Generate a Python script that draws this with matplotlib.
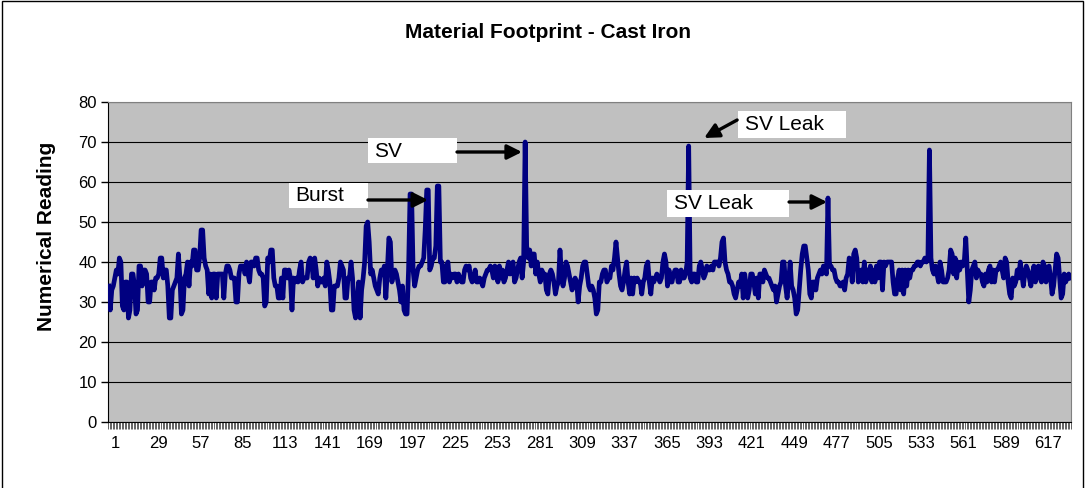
import matplotlib.pyplot as plt
import numpy as np
from matplotlib.patches import Rectangle
from matplotlib.transforms import ScaledTranslation

plt.rcParams['font.family'] = ['Liberation Sans', 'DejaVu Sans']

# readings, split in blocks along the x axis
readings_1 = [34, 28, 33, 34, 36, 38, 37, 41, 40, 29,
              28, 35, 35, 26, 28, 37, 37, 34, 27, 28,
              39, 39, 34, 38, 38, 37, 30, 30, 35, 35,
              33, 36, 36, 37, 41, 41, 36, 38, 38, 34,
              26, 26, 33, 34, 35, 36, 42, 36, 27, 28,
              36, 37, 40, 34, 40, 39, 43, 43, 38, 38,
              41, 48, 48, 41, 39, 38, 32, 37, 31, 37,
              37, 31, 37, 37, 37, 37, 31, 37, 39, 39,
              38, 36, 36, 36, 30, 30, 37, 39, 39, 39, 37]
readings_2 = [40, 37, 35, 40, 40, 39, 41, 41, 38, 37,
              37, 36, 29, 30, 41, 40, 43, 43, 36, 34,
              34, 31, 31, 36, 31, 38, 38, 36, 38, 36,
              28, 36, 35, 36, 35, 38, 40, 35, 36, 36,
              36, 40, 41, 40, 36, 41, 38, 34, 36, 35,
              35, 36, 34, 40, 38, 35, 28, 28, 34, 34,
              34, 36, 40, 39, 38, 31, 31, 36, 36, 40,
              36, 28, 26, 30, 35, 26, 33, 36, 40, 49,
              50, 45, 37, 38, 36, 34, 33, 32, 36, 38, 37]
readings_3 = [39, 31, 38, 46, 45, 35, 37, 38, 37, 35,
              33, 30, 34, 28, 27, 27, 38, 57, 57, 38,
              34, 36, 38, 39, 39, 40, 41, 48, 58, 58,
              38, 39, 41, 41, 44, 59, 59, 40, 40, 35,
              35, 39, 40, 35, 37, 36, 37, 37, 35, 37,
              36, 35, 35, 38, 39, 38, 39, 36, 35, 36,
              38, 35, 35, 36, 35, 34, 36, 37, 38, 38,
              39, 38, 36, 39, 38, 35, 39, 36, 38, 35,
              36, 38, 40, 37, 38, 40, 35, 36, 38, 40, 41]
readings_4 = [36, 40, 70, 44, 41, 43, 39, 42, 42, 37,
              40, 37, 35, 38, 37, 37, 33, 32, 37, 38,
              37, 35, 32, 34, 35, 43, 37, 34, 36, 40,
              39, 37, 35, 33, 35, 36, 35, 30, 34, 36,
              39, 40, 40, 37, 34, 33, 34, 33, 31, 27,
              28, 35, 35, 37, 38, 38, 35, 36, 36, 39,
              38, 41, 45, 41, 37, 34, 33, 35, 38, 40,
              35, 32, 36, 32, 36, 35, 36, 35, 35, 32,
              35, 36, 39, 40, 35, 32, 36, 35, 36, 37, 36]
readings_5 = [35, 36, 40, 42, 40, 34, 38, 35, 35, 37,
              38, 38, 35, 35, 38, 36, 36, 37, 40, 69,
              36, 35, 37, 37, 35, 35, 39, 40, 38, 36,
              37, 39, 38, 38, 39, 38, 40, 40, 40, 39,
              41, 45, 46, 40, 38, 37, 35, 35, 34, 32,
              31, 33, 35, 34, 37, 31, 37, 34, 31, 33,
              37, 37, 35, 32, 36, 31, 37, 37, 35, 38,
              37, 36, 36, 35, 34, 33, 34, 30, 32, 34,
              35, 40, 40, 34, 31, 35, 40, 34, 33, 31, 27]
readings_6 = [28, 33, 38, 42, 44, 44, 41, 38, 32, 31,
              35, 35, 33, 36, 37, 38, 37, 39, 38, 37,
              56, 39, 39, 38, 38, 36, 35, 35, 34, 34,
              35, 33, 36, 37, 41, 40, 35, 42, 43, 41,
              35, 37, 38, 35, 40, 35, 38, 36, 39, 35,
              38, 35, 39, 36, 40, 40, 33, 40, 39, 40,
              40, 40, 40, 35, 32, 32, 36, 38, 33, 38,
              32, 38, 34, 38, 36, 38, 38, 39, 39, 40,
              40, 39, 40, 40, 41, 40, 41, 68, 41, 38, 37]
readings_7 = [39, 37, 35, 40, 38, 35, 35, 35, 36, 38,
              43, 42, 37, 41, 36, 40, 38, 40, 39, 40,
              46, 38, 30, 33, 38, 39, 40, 36, 38, 37,
              37, 35, 34, 37, 35, 38, 39, 35, 38, 35,
              38, 38, 39, 40, 38, 36, 41, 40, 35, 32,
              31, 36, 34, 35, 38, 36, 40, 37, 34, 37,
              39, 38, 36, 34, 37, 39, 35, 38, 39, 36,
              35, 40, 39, 35, 38, 39, 36, 32, 34, 38,
              42, 41, 36, 31, 32, 37, 35, 36, 37, 36]

readings = (readings_1 + readings_2 + readings_3 + readings_4 +
            readings_5 + readings_6 + readings_7)
sample_no = np.arange(1, len(readings) + 1)
label_step = 28


def add_note(ax, text, box, text_pos, tail, head):
    # white label box, text and a black arrow
    x0, y0, x1, y1 = box
    ax.add_patch(Rectangle((x0, y0), x1 - x0, y1 - y0, facecolor='white',
                           edgecolor='none', zorder=5))
    ax.text(text_pos[0], text_pos[1], text, fontsize=15, ha='left',
            va='center', zorder=6)
    ax.annotate('', xy=head, xytext=tail,
                arrowprops=dict(arrowstyle='-|>', color='black', lw=2.4,
                                mutation_scale=22, shrinkA=0, shrinkB=0),
                zorder=6)


fig = plt.figure(figsize=(10.86, 4.88), dpi=100)
ax = fig.add_axes([108 / 1086, 66 / 488, 963 / 1086, 320 / 488])

ax.set_facecolor('#C0C0C0')
ax.plot(sample_no, readings, color='#000080', linewidth=3.4,
        solid_joinstyle='round', zorder=3)

ax.set_xlim(0.5, len(readings) + 0.5)
ax.set_ylim(0, 80)
ax.set_yticks(range(0, 81, 10))
ax.yaxis.grid(True, color='black', linewidth=0.8)
ax.set_axisbelow(True)

ticks = list(range(1, len(readings) + 1, label_step))
ax.set_xticks(ticks)
ax.set_xticklabels([str(t) for t in ticks])
ax.set_xticks(np.arange(0.5, len(readings) + 1), minor=True)
ax.tick_params(axis='x', which='major', length=0, pad=10, labelsize=12)
ax.tick_params(axis='x', which='minor', length=5, width=0.5, color='#222222')
ax.tick_params(axis='y', length=5, width=1, pad=3, labelsize=12)

# Excel draws the category labels a little to the right
shift = ScaledTranslation(7 / 100, 0, fig.dpi_scale_trans)
for label in ax.get_xticklabels():
    label.set_transform(label.get_transform() + shift)

for side in ['top', 'right']:
    ax.spines[side].set_color('#808080')
for side in ['left', 'bottom']:
    ax.spines[side].set_color('black')

ax.set_ylabel('Numerical Reading', fontsize=15, fontweight='bold')
ax.yaxis.set_label_coords(-0.054, 0.58)

fig.text(0.505, 0.934, 'Material Footprint - Cast Iron', fontsize=15,
         fontweight='bold', ha='center', va='center')

add_note(ax, 'SV', (172.2, 64.75, 231, 71), (176.2, 67.75),
         (231, 67.5), (273.9, 67.5))
add_note(ax, 'Burst', (120, 53.5, 172.2, 59.75), (124, 56.6),
         (172.2, 55.5), (211.9, 55.5))
add_note(ax, 'SV Leak', (416.6, 71, 487.9, 77.75), (421.2, 74.4),
         (416, 75.5), (394.2, 71))
add_note(ax, 'SV Leak', (369.7, 51.25, 450.3, 58), (374.3, 54.6),
         (450.3, 55), (475.4, 55))

# outer chart border
fig.patches.append(Rectangle((0.002, -0.01), 0.995, 1.007,
                             transform=fig.transFigure, fill=False,
                             edgecolor='black', linewidth=1))

fig.savefig('out.png', dpi=100)
